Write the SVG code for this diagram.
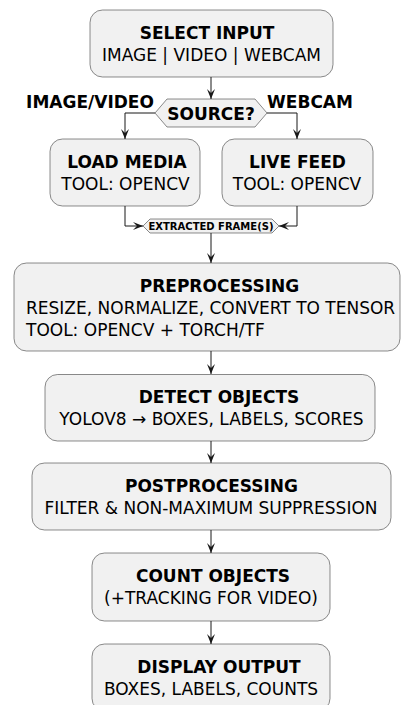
<svg xmlns="http://www.w3.org/2000/svg" width="401" height="705" viewBox="0 0 401 705">
<style>
.box{fill:#F1F1F1;stroke:#181818;stroke-width:0.5}
.t{font-family:"DejaVu Sans",sans-serif;font-size:17px;fill:#000;text-anchor:middle}
.b{font-weight:bold}
.l{text-anchor:start}
.sm{font-size:10px}
.c{fill:none;stroke:#181818;stroke-width:1}
</style>
<defs>
<marker id="ah" viewBox="-11 -5 12 10" refX="0" refY="0" markerWidth="12" markerHeight="10" markerUnits="userSpaceOnUse" orient="auto">
<path d="M0,0 L-10,-4 L-6,0 L-10,4 Z" fill="#181818"/>
</marker>
</defs>
<rect width="401" height="705" fill="#fff"/>
<g id="connectors">
<path class="c" d="M211,77 V99" marker-end="url(#ah)"/>
<path class="c" d="M155,113 H125 V139" marker-end="url(#ah)"/>
<path class="c" d="M267,113 H297 V139" marker-end="url(#ah)"/>
<path class="c" d="M125,206 V226 H143" marker-end="url(#ah)"/>
<path class="c" d="M297,206 V226 H279" marker-end="url(#ah)"/>
<path class="c" d="M211,233 V263" marker-end="url(#ah)"/>
<path class="c" d="M211,351 V374" marker-end="url(#ah)"/>
<path class="c" d="M211,441 V463" marker-end="url(#ah)"/>
<path class="c" d="M211,530 V553" marker-end="url(#ah)"/>
<path class="c" d="M211,621 V644" marker-end="url(#ah)"/>
<text class="t b" x="90" y="108">IMAGE/VIDEO</text>
<text class="t b" x="310" y="108">WEBCAM</text>
</g>
<g id="select-input">
<rect class="box" x="90" y="10" width="243" height="67" rx="12.5"/>
<text class="t b" x="207" y="39">SELECT INPUT</text>
<text class="t" x="211.5" y="61">IMAGE | VIDEO | WEBCAM</text>
</g>
<g id="source">
<polygon class="box" points="155,113 167,99 255,99 267,113 255,127 167,127"/>
<text class="t b" x="211" y="119.5">SOURCE?</text>
</g>
<g id="load-media">
<rect class="box" x="50" y="139" width="150" height="67" rx="12.5"/>
<text class="t b" x="127" y="167.5">LOAD MEDIA</text>
<text class="t" x="125.5" y="190">TOOL: OPENCV</text>
</g>
<g id="live-feed">
<rect class="box" x="222" y="139" width="151" height="67" rx="12.5"/>
<text class="t b" x="297.5" y="167.5">LIVE FEED</text>
<text class="t" x="297" y="190">TOOL: OPENCV</text>
</g>
<g id="extracted-frames">
<polygon class="box" points="143,226 150,219 272,219 279,226 272,233 150,233"/>
<text class="t b sm" x="211" y="229.6">EXTRACTED FRAME(S)</text>
</g>
<g id="preprocessing">
<rect class="box" x="14" y="263" width="386" height="88" rx="12.5"/>
<text class="t b" x="219.5" y="291.5">PREPROCESSING</text>
<text class="t l" x="26" y="314">RESIZE, NORMALIZE, CONVERT TO TENSOR</text>
<text class="t l" x="26" y="336">TOOL: OPENCV + TORCH/TF</text>
</g>
<g id="detect-objects">
<rect class="box" x="45" y="374.5" width="330" height="66.5" rx="12.5"/>
<text class="t b" x="219" y="403">DETECT OBJECTS</text>
<text class="t" x="211.5" y="425">YOLOV8 → BOXES, LABELS, SCORES</text>
</g>
<g id="postprocessing">
<rect class="box" x="32" y="463" width="359" height="67" rx="12.5"/>
<text class="t b" x="211.5" y="491.5">POSTPROCESSING</text>
<text class="t" x="211" y="513.5">FILTER &amp; NON-MAXIMUM SUPPRESSION</text>
</g>
<g id="count-objects">
<rect class="box" x="92" y="553" width="238" height="68" rx="12.5"/>
<text class="t b" x="213" y="582">COUNT OBJECTS</text>
<text class="t" x="211" y="604">(+TRACKING FOR VIDEO)</text>
</g>
<g id="display-output">
<rect class="box" x="92" y="644" width="238" height="67" rx="12.5"/>
<text class="t b" x="219" y="672.5">DISPLAY OUTPUT</text>
<text class="t" x="211" y="694.5">BOXES, LABELS, COUNTS</text>
</g>
</svg>
